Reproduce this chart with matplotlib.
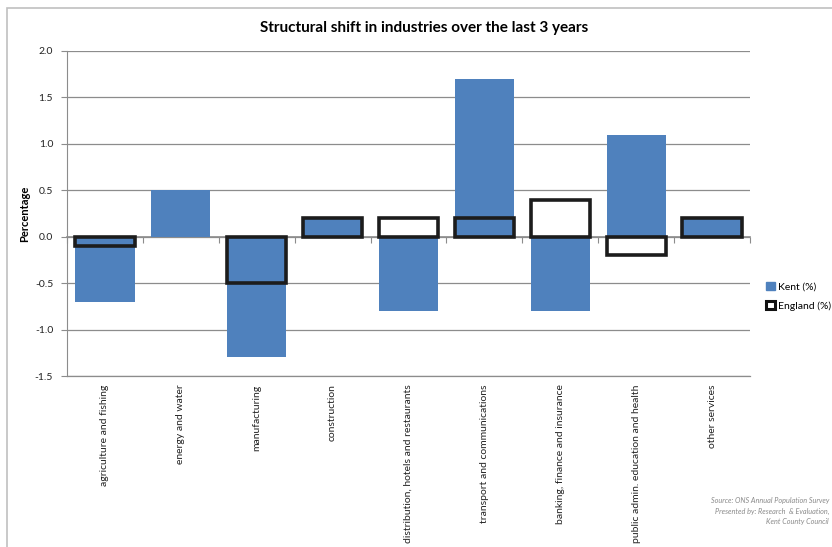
import matplotlib
matplotlib.use("Agg")
import matplotlib.pyplot as plt
from matplotlib.patches import Patch, Rectangle
import numpy as np

categories = [
    "agriculture and fishing",
    "energy and water",
    "manufacturing",
    "construction",
    "distribution, hotels and restaurants",
    "transport and communications",
    "banking, finance and insurance",
    "public admin. education and health",
    "other services",
]
kent = [-0.7, 0.5, -1.3, 0.2, -0.8, 1.7, -0.8, 1.1, 0.2]
england = [-0.1, np.nan, -0.5, 0.2, 0.2, 0.2, 0.4, -0.2, 0.2]
y_ticks = [-1.5, -1.0, -0.5, 0.0, 0.5, 1.0, 1.5, 2.0]
y_min, y_max = -1.5, 2.0

plt.rcParams["font.family"] = ["Lato", "DejaVu Sans"]

W, H = 832, 547
fig = plt.figure(figsize=(W / 100, H / 100), dpi=100)

# outer chart frame
fig.patches.append(Rectangle((7 / W, -0.1), 1.2, 1 - 8 / H + 0.1, transform=fig.transFigure,
                             fill=False, edgecolor="#c0c0c0", linewidth=1.2))

ax = fig.add_axes([67 / W, 1 - 376 / H, (750 - 67) / W, (376 - 51) / H])

kent_color = "#4F81BD"
grid_color = "#8c8c8c"
x = np.arange(len(categories))
width = 0.78

ax.bar(x, kent, width=width, color=kent_color, zorder=2)
ax.bar(x, england, width=width, facecolor="none", edgecolor="#1c1c1c", linewidth=2.6, zorder=3)

ax.set_xlim(-0.5, len(categories) - 0.5)
ax.set_ylim(y_min, y_max)
ax.set_yticks(y_ticks)
ax.set_yticklabels([f"{v:.1f}" for v in y_ticks], fontsize=7.5, color="#222222")
ax.yaxis.grid(True, color=grid_color, linewidth=0.9, zorder=0)
ax.set_axisbelow(True)
ax.tick_params(axis="y", direction="out", length=4, color=grid_color, pad=6)

ax.set_xticks(x)
ax.set_xticklabels(categories, rotation=90, fontsize=7.5, va="top", ha="center", color="#222222")
ax.tick_params(axis="x", length=0, pad=6)

for side in ("top", "right"):
    ax.spines[side].set_visible(False)
ax.spines["left"].set_color(grid_color)
ax.spines["bottom"].set_color(grid_color)
ax.spines["bottom"].set_linewidth(0.9)

# category axis crossing at zero, with boundary ticks
zero_frac = (0.0 - y_min) / (y_max - y_min)
sec = ax.secondary_xaxis(zero_frac)
sec.set_xticks(np.arange(len(categories) + 1) - 0.5)
sec.set_xticklabels([])
sec.tick_params(direction="out", length=4, color=grid_color)
sec.spines["bottom"].set_color(grid_color)
sec.spines["bottom"].set_linewidth(1.2)

ax.set_ylabel("Percentage", fontsize=8, fontweight="bold", labelpad=3)

fig.text(0.51, 1 - 28 / H, "Structural shift in industries over the last 3 years",
         ha="center", va="center", fontsize=11, fontweight="bold")

handles = [
    Patch(facecolor=kent_color, edgecolor=kent_color, label="Kent (%)"),
    Patch(facecolor="white", edgecolor="#111111", linewidth=2.2, label="England (%)"),
]
fig.legend(handles=handles, loc="upper left", bbox_to_anchor=(762 / W, 1 - 278 / H),
           frameon=False, fontsize=7.5, handlelength=0.8, handleheight=0.8,
           handletextpad=0.3, labelspacing=0.9, borderaxespad=0)

fig.text(829 / W, 1 - 511 / H,
         "Source: ONS Annual Population Survey\nPresented by: Research  & Evaluation,\nKent County Council",
         ha="right", va="center", multialignment="right", fontsize=5.2,
         style="italic", color="#8a8a8a", linespacing=1.5)

fig.savefig("out.png", dpi=100)
